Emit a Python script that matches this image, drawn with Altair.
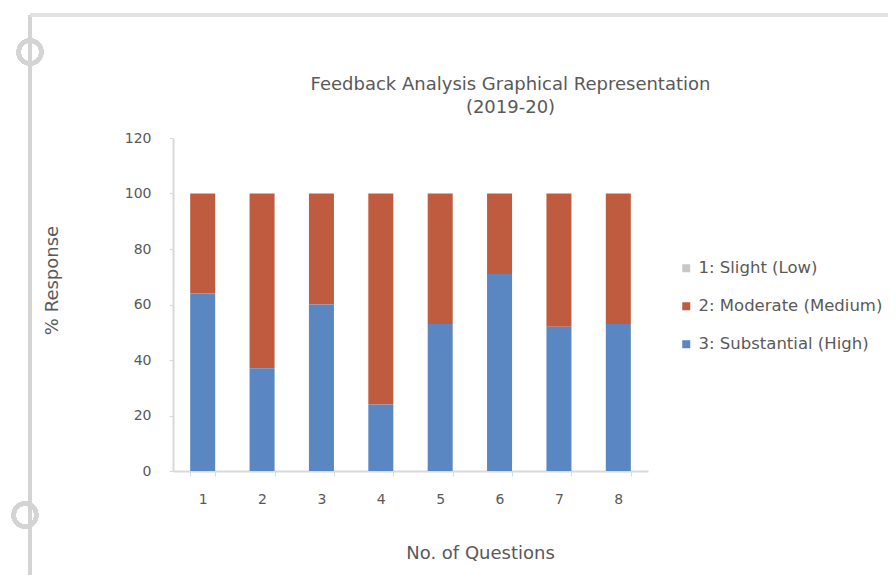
import altair as alt
import pandas as pd

questions = ["1", "2", "3", "4", "5", "6", "7", "8"]
series = ["1: Slight (Low)", "2: Moderate (Medium)", "3: Substantial (High)"]
slight = [0, 0, 0, 0, 0, 0, 0, 0]
substantial = [64, 37, 60, 24, 53, 71, 52, 53]
moderate = [36, 63, 40, 76, 47, 29, 48, 47]
colors = ["#C8C8C8", "#BF5B3E", "#5A86C2"]
stack_rank = {"3: Substantial (High)": 1, "2: Moderate (Medium)": 2, "1: Slight (Low)": 3}

rows = []
for name, vals in zip(series, [slight, moderate, substantial]):
    for q, v in zip(questions, vals):
        rows.append({"Question": q, "Series": name, "Value": v, "rank": stack_rank[name]})
df = pd.DataFrame(rows)

FONT = "DejaVu Sans"
GRAY = "#595959"

bars = alt.Chart(df).mark_bar(size=25).encode(
    x=alt.X("Question:N", sort=questions,
            scale=alt.Scale(paddingInner=0.58, paddingOuter=0.29),
            axis=alt.Axis(title="No. of Questions", labelAngle=0, labelPadding=16,
                          titleX=307, titleY=82, titleBaseline="middle",
                          tickBand="extent", tickSize=5)),
    y=alt.Y("Value:Q", stack="zero",
            scale=alt.Scale(domain=[0, 120]),
            axis=alt.Axis(title="% Response", values=[0, 20, 40, 60, 80, 100, 120],
                          grid=False, tickSize=4, labelPadding=18,
                          titleX=-121, titleY=142, titleBaseline="middle",
                          titleAlign="center", titleAngle=270)),
    color=alt.Color("Series:N", scale=alt.Scale(domain=series, range=colors),
                    legend=alt.Legend(title=None, orient="none", legendX=505, legendY=122,
                                      symbolType="square", symbolSize=64,
                                      rowPadding=21, labelFontSize=16.5, labelColor=GRAY,
                                      labelFont=FONT, labelLimit=300, symbolStrokeWidth=0)),
    order=alt.Order("rank:Q"),
)

deco_color = "#D4D4D4"
vline = alt.Chart(df).mark_rule(color=deco_color, strokeWidth=3).encode(
    x=alt.value(-143), y=alt.value(-123), y2=alt.value(445))
hline = alt.Chart(df).mark_rule(color="#E2E2E2", strokeWidth=3).encode(
    x=alt.value(-143), x2=alt.value(723), y=alt.value(-123))
circles = alt.Chart(df).mark_point(shape="circle", filled=False, size=520,
                                   strokeWidth=4, color=deco_color).encode(
    x=alt.value(-143), y=alt.value(-86))
circles2 = alt.Chart(df).mark_point(shape="circle", filled=False, size=520,
                                    strokeWidth=4, color=deco_color).encode(
    x=alt.value(-148), y=alt.value(377))

chart = alt.layer(vline, hline, circles, circles2, bars).properties(
    width=475, height=333,
    background="white",
    title=alt.TitleParams(text=["Feedback Analysis Graphical Representation", "(2019-20)"],
                          dx=100, dy=127, offset=24, lineHeight=23, fontSize=18, font=FONT,
                          fontWeight="normal", color=GRAY, anchor="middle"),
    autosize=alt.AutoSizeParams(type="none"),
    padding={"left": 165, "top": 130, "right": 240, "bottom": 104},
).configure_view(stroke=None).configure_axis(
    domainColor="#D9D9D9", domainWidth=2, tickColor="#D9D9D9",
    labelColor=GRAY, labelFont=FONT, labelFontSize=14,
    titleColor=GRAY, titleFont=FONT, titleFontSize=18, titleFontWeight="normal",
)

chart.save("out.html", embed_options={"renderer": "svg", "actions": False})
